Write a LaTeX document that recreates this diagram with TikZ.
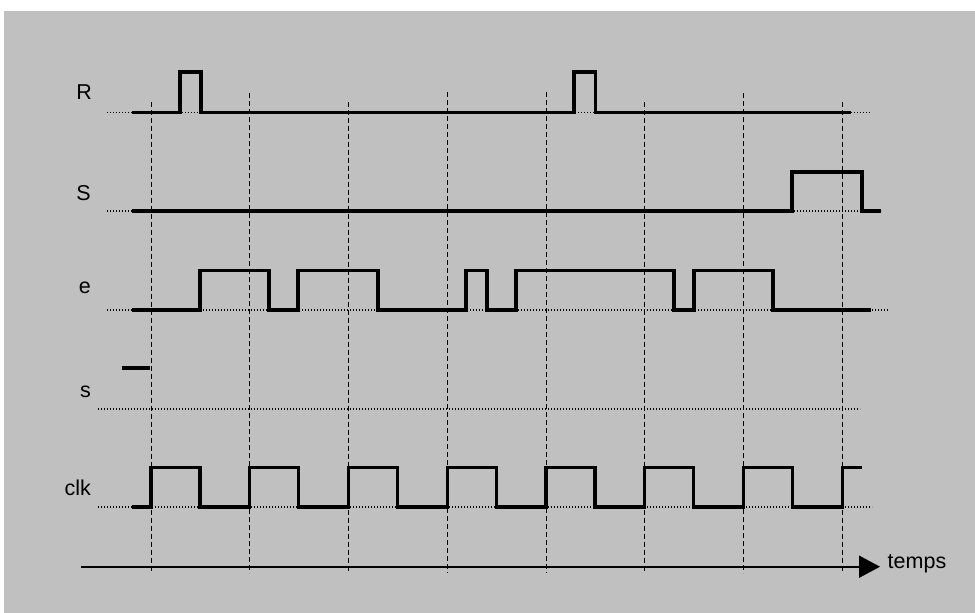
\documentclass[tikz,border=0pt]{standalone}
\usepackage{fontspec}
\setmainfont{Liberation Sans}
\usetikzlibrary{arrows.meta}
\definecolor{bggrey}{HTML}{C0C0C0}
\tikzset{
  sig/.style={line width=3.2pt, line join=miter, line cap=butt},
  grid/.style={line width=1pt, dash pattern=on 5pt off 3pt},
  base/.style={line width=1.2pt, dash pattern=on 1.2pt off 1.8pt},
  lbl/.style={inner sep=0pt, font=\fontsize{21.5}{24}\selectfont},
  axis/.style={line width=2pt, -{Triangle[length=21pt,width=22pt]}}
}
\begin{document}
\begin{tikzpicture}[x=1pt,y=-1pt]
\useasboundingbox (0,0) rectangle (975,613);
\fill[bggrey] (4,11) rectangle (975,613);
% dotted base lines
\draw[base] (107,112.5) -- (870,112.5);
\draw[base] (107,211) -- (881,211);
\draw[base] (107,310) -- (888,310);
\draw[base] (98,409) -- (860,409);
\draw[base] (98,507) -- (872,507);
% dashed clock edges
\foreach \k/\t in {0/102,1/93,2/102,3/92,4/92,5/102,6/93,7/102}{
  \draw[grid] ({151+98.75*\k},\t) -- ({151+98.75*\k},573);
}
% labels
\node[lbl, anchor=base east] (lR) at (92,99) {R};
\node[lbl, anchor=base east] (lS) at (91,200) {S};
\node[lbl, anchor=base east] (le) at (91,293) {e};
\node[lbl, anchor=base east] (ls) at (91,397) {s};
\node[lbl, anchor=base east] (lclk) at (91,495) {clk};
% R
\draw[sig] (132,112.5) -- (180,112.5) -- (180,72) -- (201,72) -- (201,112.5) -- (574,112.5) -- (574,72) -- (595.5,72) -- (595.5,112.5) -- (851,112.5);
% S
\draw[sig] (132,211) -- (792,211) -- (792,172) -- (862,172) -- (862,211) -- (881,211);
% e
\draw[sig] (132,310) -- (200,310) -- (200,270.5) -- (269,270.5) -- (269,310) -- (298,310) -- (298,270.5) -- (378,270.5) -- (378,310) -- (466,310) -- (466,270.5) -- (487,270.5) -- (487,310) -- (516,310) -- (516,270.5) -- (674,270.5) -- (674,310) -- (694,310) -- (694,270.5) -- (773,270.5) -- (773,310) -- (871,310);
% s
\draw[sig] (122,368) -- (150,368);
% clk
\draw[sig] (132,507) -- (151,507)
  \foreach \k in {0,...,6}{ -- ({151+98.75*\k},467.5) -- ({200+98.75*\k},467.5) -- ({200+98.75*\k},507) -- ({249.75+98.75*\k},507) }
  -- (842.25,467.5) -- (862,467.5);
% time axis
\coordinate (a0) at (81,566.7);
\coordinate (a1) at (880,566.7);
\draw[axis] (a0) -- (a1);
\node[lbl, anchor=base west] (lt) at (887.5,568) {temps};
\end{tikzpicture}
\end{document}
